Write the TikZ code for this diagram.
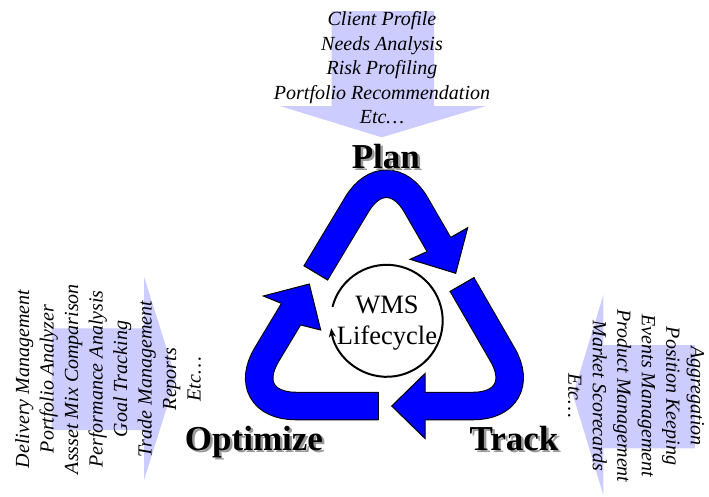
\documentclass[tikz,border=0pt]{standalone}
\usepackage{fontspec}
\setmainfont{Liberation Serif}
\usepackage{xcolor}
\usetikzlibrary{arrows.meta,calc}

\definecolor{wmsblue}{RGB}{0,0,255}
\definecolor{paleblue}{RGB}{204,204,255}
\newcommand{\wmshead}[5]{%
  \fill[wmsblue] #1 -- #2 -- #3 -- #4 -- #5 -- cycle;
  \draw[line width=1pt] #1 -- #2 -- #3 -- #4 -- #5;}
\newcommand{\dropshadow}[1]{%
  \makebox[0pt][l]{\hspace{2.5pt}\raisebox{-2.5pt}{\color{black!40}#1}}#1}

\tikzset{
  band/.style={line width=1pt, double=wmsblue, double distance=26.5pt, rounded corners=#1},
  cut/.style={line width=1pt},
  list/.style={font=\fontsize{20}{24.5}\selectfont\itshape, align=center, inner sep=0pt},
  stage/.style={font=\fontsize{35}{40}\selectfont\bfseries, inner sep=0pt, anchor=base}
}

\begin{document}
\begin{tikzpicture}[x=1pt,y=-1pt,line join=miter]
\useasboundingbox (0,0) rectangle (709,496);
\fill[white] (0,0) rectangle (709,496);
% pale arrows behind the lists
\fill[paleblue] (331.7,11) -- (434,11) -- (434,106) -- (486,106) -- (381.7,137.3) -- (280,106) -- (331.7,106) -- cycle;
\fill[paleblue] (51.7,328.3) -- (144,328.3) -- (144,276.7) -- (176,378.3) -- (144,480) -- (144,430) -- (51.7,430) -- cycle;
\fill[paleblue] (695,345) -- (603.3,345) -- (603.3,295) -- (573,395) -- (603.3,495) -- (603.3,448.3) -- (695,448.3) -- cycle;

\coordinate (apex) at (386.9,154.5);
\coordinate (bl) at (235.8,406);
\coordinate (br) at (532.2,406);
\coordinate (plan-start) at (315.8,272.9);
\coordinate (plan-end) at (444.9,254.9);
\coordinate (track-start) at (462,284.5);
\coordinate (track-end) at (415,406);
\coordinate (opt-start) at (378.3,406);
\coordinate (opt-end) at (296.6,304.9);

\draw[band=58pt] (plan-start) -- (apex) -- (plan-end);
\draw[band=59pt] (track-start) -- (br) -- (track-end);
\draw[band=60pt] (opt-start) -- (bl) -- (opt-end);
\draw[cut] ($(plan-start)!14.25pt!90:(apex)$) -- ($(plan-start)!14.25pt!-90:(apex)$);
\draw[cut] ($(track-start)!14.25pt!90:(br)$) -- ($(track-start)!14.25pt!-90:(br)$);
\draw[cut] ($(opt-start)!14.25pt!90:(bl)$) -- ($(opt-start)!14.25pt!-90:(bl)$);
\wmshead{(450.9,237.3)}{(467.7,227.7)}{(455.7,273.3)}{(410,259.3)}{(426.9,251.7)}
\wmshead{(425,392)}{(425,373.5)}{(391.7,406)}{(425,438.5)}{(425,420)}
\wmshead{(281.2,303.3)}{(263.3,296)}{(309.3,284)}{(320.7,330)}{(300.8,325)}

\coordinate (hub) at (386.7,320.8);
\draw[line width=2pt,-{Stealth[length=9pt,width=7pt]}] ($(hub)+(194.4:56)$) arc[start angle=194.4, end angle=532.5, radius=56];
\node[font=\fontsize{26.5}{30.3}\selectfont, align=center, inner sep=0pt] (hub-label) at (387,323) {WMS\\Lifecycle};

\node[list] (plan-items) at (382,68) {Client Profile\\Needs Analysis\\Risk Profiling\\Portfolio Recommendation\\Etc…};
\node[list, rotate=90] (optimize-items) at (108,379) {Delivery Management\\Portfolio Analyzer\\Assset Mix Comparison\\Performance Analysis\\Goal Tracking\\Trade Management\\Reports\\Etc…};
\node[list, rotate=-90] (track-items) at (636,396) {Aggregation\\Position Keeping\\Events Management\\Product Management\\Market Scorecards\\Etc…};

\node[stage] (plan) at (385.8,168.3) {\dropshadow{Plan}};
\node[stage] (optimize) at (254,450) {\dropshadow{Optimize}};
\node[stage] (track) at (514,450) {\dropshadow{Track}};
\end{tikzpicture}
\end{document}
